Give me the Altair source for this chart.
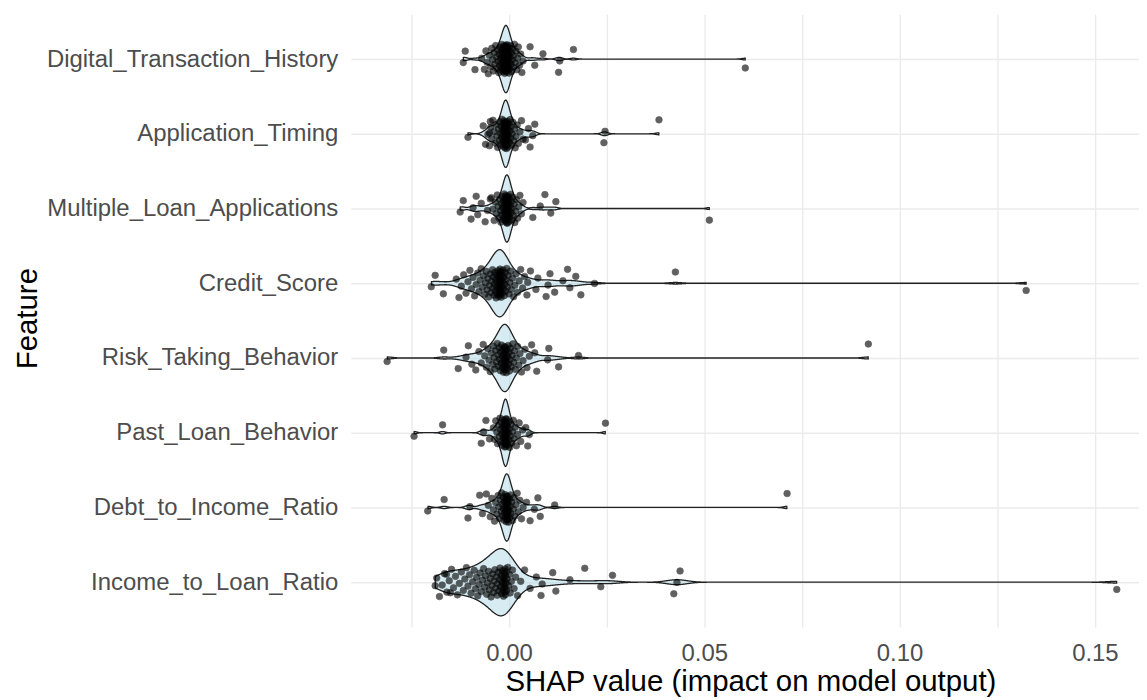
import altair as alt
import pandas as pd

features = [
    "Digital_Transaction_History",
    "Application_Timing",
    "Multiple_Loan_Applications",
    "Credit_Score",
    "Risk_Taking_Behavior",
    "Past_Loan_Behavior",
    "Debt_to_Income_Ratio",
    "Income_to_Loan_Ratio",
]

# SHAP values, written in units of 1e-4
UNIT = 1e-4

digital_transaction_history = [
    -117, -112, -87, -70, 54, 66, 87, 127, 130, 165, 605,
    -8, -8, -9, -9, -9, -10, -10, -10, -11, -11, -11, -12, -12, -13, -13, -14, -14, -15, -15, -16,
    -17, -18, -18, -19, -20, -21, -22, -23, -24, -25, -26, -28, -29, -31, -32, -34, -36, -38, -40,
    -42, -44, -47, -50, -53, -56, -59, -63,
    -7, -7, -6, -6, -6, -5, -5, -5, -4, -4, -4, -3, -3, -2, -2, -1, -1, 0, 0, 1, 2, 3, 4, 5, 6, 7,
    8, 9, 11, 12, 14, 16, 18, 20, 22, 24, 27, 30, 33, 36,
]

application_timing = [
    -105, -66, -60, -50, -48, 42, 50, 54, 61, 66, 243, 246, 384,
    -8, -8, -8, -9, -9, -9, -10, -10, -10, -11, -11, -12, -12, -13, -13, -14, -15, -15, -16, -17,
    -18, -19, -20, -21, -22, -24, -25, -27, -29, -31, -33, -35, -38, -41, -44, -47, -50, -54,
    -7, -7, -6, -6, -6, -5, -5, -4, -4, -3, -3, -2, -1, 0, 1, 2, 3, 4, 5, 7, 8, 10, 12, 14, 16, 18,
    21, 24, 28, 32, 36,
]

multiple_loan_applications = [
    -125, -117, -97, -92, -84, -80, -71, -61, -55, -48, 61, 80, 92, 107, 120, 513,
    -5, -5, -5, -6, -6, -6, -7, -7, -7, -8, -8, -9, -9, -10, -10, -11, -12, -12, -13, -14, -15, -16,
    -17, -18, -19, -21, -22, -24, -26, -28, -30, -32, -35, -38, -41, -45,
    -4, -4, -4, -3, -3, -3, -2, -2, -1, -1, 0, 0, 1, 2, 3, 4, 5, 6, 7, 8, 10, 11, 13, 15, 17, 19,
    22, 25, 28, 32, 36,
]

credit_score = [
    -199, -189, -168, 48, 55, 69, 74, 95, 100, 105, 117, 138, 150, 156, 171, 184, 219, 426, 1324,
    -135, -128, -122, -116, -110, -105, -100, -96, -92, -88, -84, -80, -77, -74, -71, -68, -65, -62,
    -60, -58, -56, -54, -52, -50, -48, -46, -44, -42, -41, -40, -38, -37, -36, -35, -34, -33, -32,
    -31, -30, -29, -28, -27, -26, -26, -25, -25, -24, -24, -23, -23, -23, -22, -22, -21, -21, -20,
    -20, -19, -18, -17, -16, -15, -14, -13, -12, -11, -10, -9, -8, -6, -4, -2, 0, 2, 4, 6, 9, 12,
    15, 18, 22, 26, 30, 35, 40, 46,
]

risk_taking_behavior = [
    -312, -167, -130, -110, -104, -95, 66, 71, 99, 102, 127, 178, 920,
    -10, -10, -11, -11, -12, -12, -13, -14, -15, -16, -17, -18, -19, -20, -21, -22, -24, -25, -27,
    -28, -30, -32, -34, -36, -38, -40, -42, -45, -48, -51, -54, -58, -62, -66, -71, -77, -85,
    -9, -9, -8, -8, -7, -6, -5, -4, -3, -2, -1, 0, 1, 3, 4, 6, 8, 10, 12, 14, 16, 19, 22, 25, 28,
    32, 36, 41, 46, 52, 58,
]

past_loan_behavior = [
    -243, -170, -71, -65, -59, -50, 43, 48, 52, 247,
    -8, -8, -8, -9, -9, -9, -10, -10, -10, -11, -11, -12, -12, -13, -14, -14, -15, -16, -17, -18,
    -19, -20, -22, -23, -25, -27, -29, -31, -34, -37, -40,
    -7, -7, -7, -6, -6, -5, -5, -4, -3, -2, -1, 0, 1, 2, 4, 5, 7, 9, 11, 13, 16, 19, 22, 26, 30, 35,
]

debt_to_income_ratio = [
    -208, -166, -105, -100, -75, -68, 45, 54, 65, 74, 80, 117, 712,
    -5, -5, -5, -6, -6, -6, -7, -7, -8, -8, -9, -9, -10, -11, -12, -13, -14, -15, -16, -17, -19,
    -20, -22, -24, -26, -28, -31, -34, -37, -40, -44, -48, -53, -58,
    -4, -4, -4, -3, -3, -2, -2, -1, 0, 1, 2, 3, 4, 5, 7, 9, 11, 13, 15, 18, 21, 24, 28, 32, 36,
]

income_to_loan_ratio = [
    -189, -160, -150, 30, 40, 54, 70, 82, 85, 112, 120, 156, 194, 235, 265, 422, 430, 438, 1556,
    -185, -178, -171, -165, -159, -153, -147, -142, -137, -132, -127, -122, -117, -113, -109, -105,
    -101, -97, -93, -89, -86, -83, -80, -77, -74, -71, -68, -65, -62, -60, -57, -55, -52, -50, -48,
    -46, -44, -42, -40, -38, -36, -34, -32, -30, -29, -27, -26, -24, -23, -21, -20, -19, -18, -17,
    -16, -15, -14, -13, -12, -11, -11, -10, -10, -9, -9, -8, -7, -6, -5, -3, -1, 1, 3, 6, 9, 13, 17, 22,
]

series = [
    digital_transaction_history,
    application_timing,
    multiple_loan_applications,
    credit_score,
    risk_taking_behavior,
    past_loan_behavior,
    debt_to_income_ratio,
    income_to_loan_ratio,
]

x_ticks = [-0.025, 0.0, 0.025, 0.05, 0.075, 0.10, 0.125, 0.15]

rows = []
for i, (name, vals) in enumerate(zip(features, series)):
    for v in vals:
        rows.append({"feature": name, "idx": i, "value": v * UNIT})
df = pd.DataFrame(rows)

FONT = "Liberation Sans"
x_domain = [-0.0405, 0.16129]
y_domain = [-0.6, 7.6]

label_array = "[" + ",".join("'" + f + "'" for f in features) + "]"

x_axis = alt.Axis(
    values=x_ticks,
    labelExpr="abs(datum.value*20 - round(datum.value*20)) < 1e-6 ? format(datum.value, '.2f') : ''",
    grid=True, gridColor="#EBEBEB", gridWidth=1.4,
    ticks=False, tickSize=0, domain=False,
    labelFont=FONT, labelFontSize=24, labelColor="#4D4D4D", labelPadding=15,
    labelOverlap=False, labelFlush=False,
    title="SHAP value (impact on model output)",
    titleFont=FONT, titleFontSize=29.5, titleFontWeight="normal", titleColor="black",
    titleX=401, titleY=55, titleAlign="center", titleBaseline="middle",
)
y_axis = alt.Axis(
    values=list(range(len(features))),
    labelExpr=label_array + "[datum.value]",
    grid=True, gridColor="#EBEBEB", gridWidth=1.4,
    ticks=False, tickSize=0, domain=False,
    labelFont=FONT, labelFontSize=24, labelColor="#4D4D4D", labelPadding=13,
    labelOverlap=False, labelFlush=False, labelBaseline="middle", labelLimit=0,
    title="Feature",
    titleFont=FONT, titleFontSize=29.5, titleFontWeight="normal", titleColor="black",
    titleX=-324, titleY=305, titleAngle=270, titleAlign="center", titleBaseline="middle",
)

x_scale = alt.Scale(domain=x_domain, nice=False, zero=False)
y_scale = alt.Scale(domain=y_domain, reverse=True, nice=False, zero=False)

base = alt.Chart(df)

violin = (
    base.transform_joinaggregate(vmin="min(value)", vmax="max(value)", groupby=["feature"])
    .transform_density(
        "value", as_=["value", "density"], groupby=["feature", "idx", "vmin", "vmax"],
        extent=x_domain, steps=2500,
    )
    .transform_filter("datum.value >= datum.vmin && datum.value <= datum.vmax")
    .transform_joinaggregate(maxd="max(density)", groupby=["feature"])
    .transform_calculate(
        hi="datum.idx + 0.45 * datum.density / datum.maxd",
        lo="datum.idx - 0.45 * datum.density / datum.maxd",
    )
    .mark_area(orient="vertical", fill="#ADD8E6", fillOpacity=0.5, stroke="#222222", strokeWidth=1.3)
    .encode(
        x=alt.X("value:Q", scale=x_scale, axis=x_axis),
        y=alt.Y("hi:Q", scale=y_scale, axis=y_axis),
        y2="lo:Q",
        detail="feature:N",
    )
)

points = (
    base.transform_window(rn="row_number()", groupby=["feature"])
    .transform_calculate(yj="datum.idx + ((datum.rn * 0.6180339887) % 1 - 0.5) * 0.4")
    .mark_circle(size=44, color="black", opacity=0.62, stroke="black", strokeWidth=0.7)
    .encode(
        x=alt.X("value:Q", scale=x_scale, axis=x_axis),
        y=alt.Y("yj:Q", scale=y_scale, axis=y_axis),
    )
)

chart = (
    alt.layer(violin, points)
    .properties(
        width=791, height=615,
        autosize=alt.AutoSizeParams(type="none"),
        padding={"left": 344, "top": 5, "right": 0, "bottom": 72},
        background="white",
    )
    .configure_view(stroke=None)
)

chart.save("out.html", embed_options={"renderer": "svg", "actions": False})
